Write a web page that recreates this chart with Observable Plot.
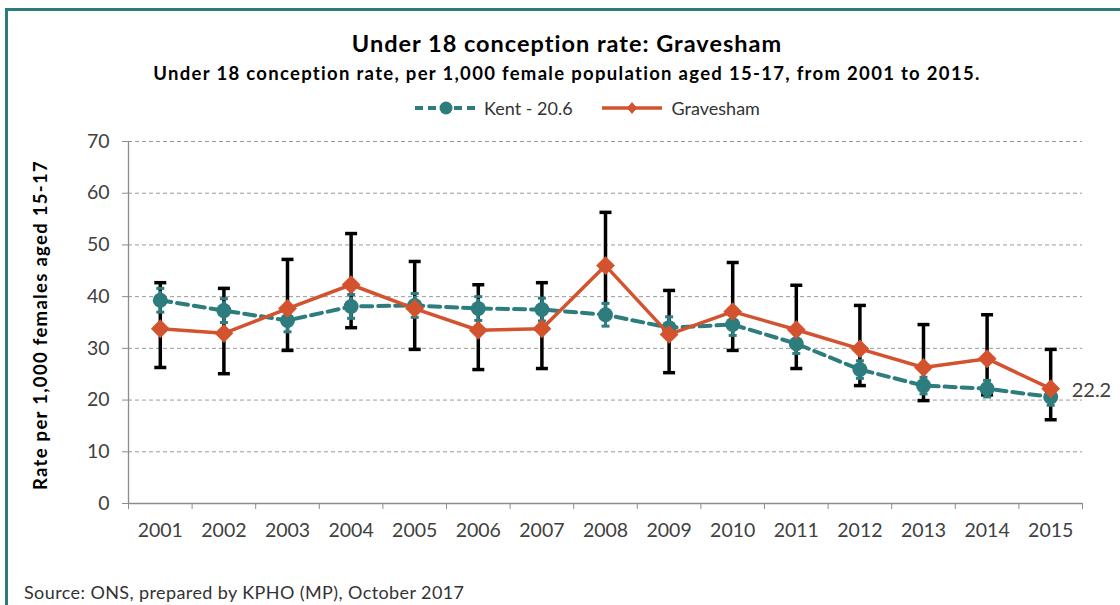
<!DOCTYPE html>
<html>
<head>
<meta charset="utf-8">
<script src="https://cdn.jsdelivr.net/npm/d3@7"></script>
<script src="https://cdn.jsdelivr.net/npm/@observablehq/plot@0.6"></script>
<style>
  html, body { margin: 0; padding: 0; background: #fff; }
  #wrap { position: relative; width: 1120px; height: 605px; overflow: hidden; font-family: Lato, "Open Sans", sans-serif; color: #000; }
  #frame { position: absolute; left: 5px; top: 8px; width: 1300px; height: 700px; border-top: 3px solid #2c7b7c; border-left: 3px solid #2c7b7c; box-sizing: border-box; }
  .title { position: absolute; left: 0; width: 1134px; text-align: center; font-weight: bold; white-space: nowrap; }
  #t1 { top: 29px; font-size: 23.5px; letter-spacing: 1px; }
  #t2 { top: 62px; font-size: 18.5px; letter-spacing: 1.3px; }
  #legend { position: absolute; top: 97px; left: 412px; font-size: 18px; color: #333; display: flex; align-items: center; height: 22px; white-space: nowrap; }
  #legend svg { display: block; }
  #ylab { position: absolute; left: 40px; top: 325px; transform: translate(-50%, -50%) rotate(-90deg); white-space: nowrap; font-weight: bold; font-size: 18.5px; letter-spacing: 1.3px; }
  #plot { position: absolute; left: 0; top: 120px; }
  #source { position: absolute; left: 24px; top: 581px; font-size: 18px; letter-spacing: 0.4px; color: #333; white-space: nowrap; }
</style>
</head>
<body>
<div id="wrap">
  <div id="frame"></div>
  <div class="title" id="t1">Under 18 conception rate: Gravesham</div>
  <div class="title" id="t2">Under 18 conception rate, per 1,000 female population aged 15-17, from 2001 to 2015.</div>
  <div id="legend"></div>
  <div id="ylab">Rate per 1,000 females aged 15-17</div>
  <div id="plot"></div>
  <div id="source">Source: ONS, prepared by KPHO (MP), October 2017</div>
</div>
<script>
const years = [2001, 2002, 2003, 2004, 2005, 2006, 2007, 2008, 2009, 2010, 2011, 2012, 2013, 2014, 2015];
const kent = [39.3, 37.3, 35.4, 38.1, 38.3, 37.7, 37.5, 36.5, 34.0, 34.6, 30.9, 25.9, 22.8, 22.2, 20.6];
const kentLow = [37.0, 35.0, 33.2, 35.8, 36.0, 35.4, 35.3, 34.3, 31.9, 32.5, 29.0, 24.2, 21.2, 20.6, 19.0];
const kentHigh = [41.6, 39.6, 37.6, 40.4, 40.6, 40.0, 39.7, 38.7, 36.1, 36.7, 32.8, 27.6, 24.4, 23.8, 22.2];
const grav = [33.8, 32.9, 37.7, 42.3, 37.7, 33.5, 33.8, 46.0, 32.7, 37.1, 33.6, 29.9, 26.3, 28.0, 22.2];
const gravLow = [26.3, 25.1, 29.6, 34.0, 29.8, 25.9, 26.1, 36.5, 25.3, 29.6, 26.1, 22.8, 19.9, 21.0, 16.2];
const gravHigh = [42.7, 41.6, 47.2, 52.2, 46.8, 42.3, 42.7, 56.3, 41.2, 46.6, 42.2, 38.3, 34.6, 36.5, 29.8];
const yTicks = [0, 10, 20, 30, 40, 50, 60, 70];
const seriesNames = ["Kent - 20.6", "Gravesham"];
const endLabel = "22.2";

const TEAL = "#2e7d7e";
const ORANGE = "#d3532f";
const AXIS = "#8c8c8c";

const rows = years.map((year, i) => ({
  year, k: kent[i], kLow: kentLow[i], kHigh: kentHigh[i],
  g: grav[i], gLow: gravLow[i], gHigh: gravHigh[i]
}));
const x0 = years[0] - 0.5, x1 = years[years.length - 1] + 0.5;
const bounds = [x0, ...years.map(y => y + 0.5)];
const cap = { draw(ctx, size) { const w = Math.sqrt(size / Math.PI); ctx.moveTo(-w, 0); ctx.lineTo(w, 0); } };
const last = rows[rows.length - 1];

const chart = Plot.plot({
  width: 1120, height: 440,
  marginTop: 21, marginBottom: 57, marginLeft: 128, marginRight: 38,
  x: { domain: [x0, x1] },
  y: { domain: [0, 70] },
  style: { fontFamily: "Lato, 'Open Sans', sans-serif", color: "#404040", background: "transparent", overflow: "visible" },
  marks: [
    Plot.ruleY(yTicks.filter(v => v > 0), { stroke: "#9a9a9a", strokeDasharray: "4,3", strokeWidth: 1 }),
    Plot.ruleX([x0], { stroke: AXIS, strokeWidth: 1.3 }),
    Plot.ruleY([0], { stroke: AXIS, strokeWidth: 1.3 }),
    Plot.axisY({ ticks: yTicks, tickSize: 6, tickPadding: 13, fontSize: 19.5, stroke: AXIS, fill: "#404040", label: null }),
    Plot.axisX({ ticks: bounds, tickSize: 6, tickFormat: () => "", stroke: AXIS, label: null }),
    Plot.axisX({ ticks: years, tickSize: 0, tickPadding: 20, tickFormat: d => String(d), fontSize: 19.5, fill: "#404040", label: null }),
    // Gravesham error bars
    Plot.ruleX(rows, { x: "year", y1: "gLow", y2: "gHigh", stroke: "#000", strokeWidth: 3.5 }),
    Plot.dot(rows, { x: "year", y: "gLow", symbol: cap, r: 6, fill: "none", stroke: "#000", strokeWidth: 3.5 }),
    Plot.dot(rows, { x: "year", y: "gHigh", symbol: cap, r: 6, fill: "none", stroke: "#000", strokeWidth: 3.5 }),
    // Kent error bars
    Plot.ruleX(rows, { x: "year", y1: "kLow", y2: "kHigh", stroke: TEAL, strokeWidth: 3, strokeDasharray: "5,3" }),
    Plot.dot(rows, { x: "year", y: "kLow", symbol: cap, r: 4, fill: "none", stroke: TEAL, strokeWidth: 3 }),
    Plot.dot(rows, { x: "year", y: "kHigh", symbol: cap, r: 4, fill: "none", stroke: TEAL, strokeWidth: 3 }),
    // Kent
    Plot.line(rows, { x: "year", y: "k", stroke: TEAL, strokeWidth: 4, strokeDasharray: "11,6" }),
    Plot.dot(rows, { x: "year", y: "k", r: 7.5, fill: TEAL, stroke: "none" }),
    // Gravesham
    Plot.line(rows, { x: "year", y: "g", stroke: ORANGE, strokeWidth: 3.5 }),
    Plot.dot(rows, { x: "year", y: "g", symbol: "diamond2", r: 8.5, fill: ORANGE, stroke: "none" }),
    Plot.text([last], { x: "year", y: "g", text: () => endLabel, textAnchor: "start", dx: 21, dy: 2, fontSize: 20, fill: "#404040" })
  ]
});
document.getElementById("plot").appendChild(chart);

// Legend
const legend = d3.select("#legend");
function item(kind, label, gap) {
  const s = legend.append("svg").attr("width", 68).attr("height", 22);
  if (kind === "kent") {
    s.append("line").attr("x1", 3).attr("x2", 65).attr("y1", 11).attr("y2", 11)
      .attr("stroke", TEAL).attr("stroke-width", 4).attr("stroke-dasharray", "8,5");
    s.append("circle").attr("cx", 34).attr("cy", 11).attr("r", 6.5).attr("fill", TEAL);
  } else {
    s.append("line").attr("x1", 2).attr("x2", 62).attr("y1", 11).attr("y2", 11)
      .attr("stroke", ORANGE).attr("stroke-width", 3.5);
    s.append("path").attr("d", "M32,5 L37,11 L32,17 L27,11 Z").attr("fill", ORANGE);
  }
  legend.append("span").text(label).style("margin-left", "4px").style("margin-right", gap + "px");
}
item("kent", seriesNames[0], 27);
item("grav", seriesNames[1], 0);
</script>
</body>
</html>
